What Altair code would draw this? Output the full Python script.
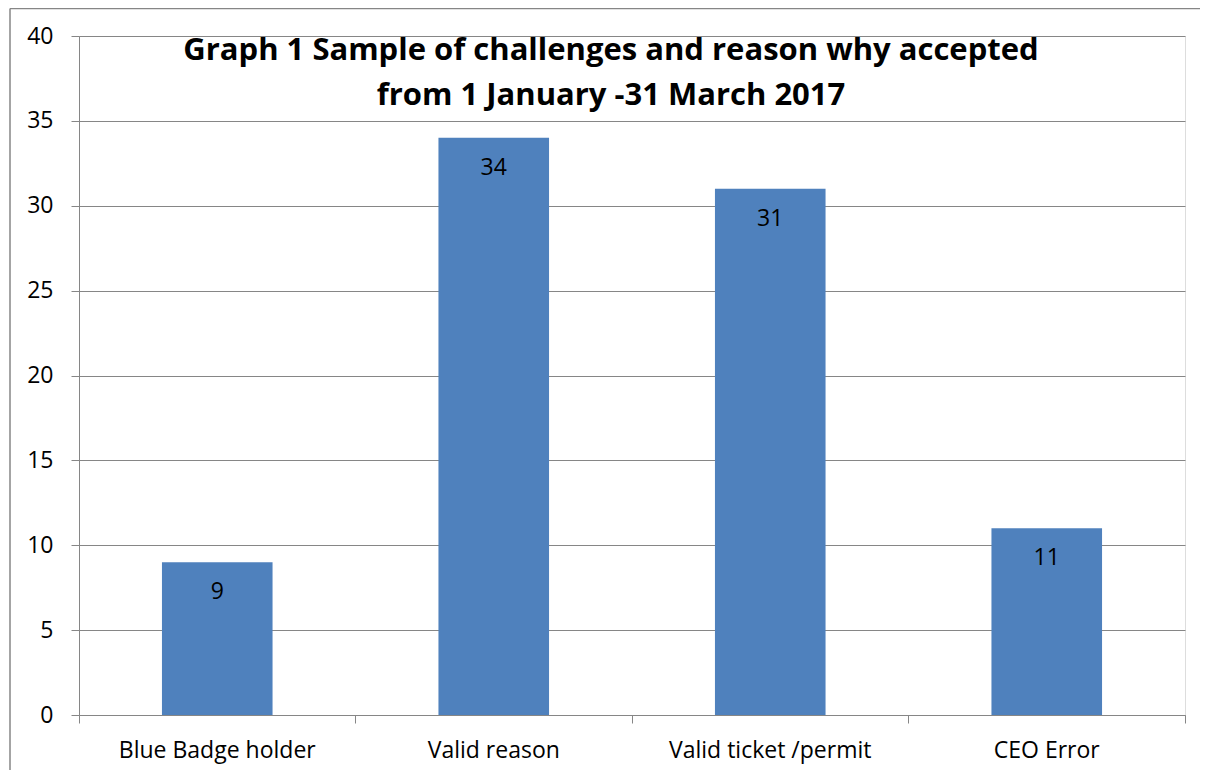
import altair as alt
import pandas as pd

categories = ["Blue Badge holder", "Valid reason", "Valid ticket /permit", "CEO Error"]
values = [9, 34, 31, 11]
y_ticks = [0, 5, 10, 15, 20, 25, 30, 35, 40]
title_lines = ["Graph 1 Sample of challenges and reason why accepted",
               "from 1 January -31 March 2017"]

df = pd.DataFrame({"reason": categories, "count": values})

W, H = 1106, 679
FONT = "Open Sans"
GRAY = "#868686"
BAR = "#4F81BD"
FS = 23

x_enc = alt.X(
    "reason:N", sort=categories, title=None,
    scale=alt.Scale(paddingInner=0, paddingOuter=0),
    axis=alt.Axis(labelAngle=0, bandPosition=1, tickExtra=True, tickSize=8,
                  tickColor=GRAY, domainColor=GRAY, domainWidth=1, tickWidth=1,
                  labelFontSize=FS, labelFont=FONT, labelColor="black",
                  labelLimit=500, labelPadding=16, grid=False),
)
y_enc = alt.Y(
    "count:Q", title=None,
    scale=alt.Scale(domain=[0, 40], nice=False),
    axis=alt.Axis(values=y_ticks, tickSize=8, tickColor=GRAY, domainColor=GRAY,
                  gridColor=GRAY, gridWidth=1, grid=True, labelFontSize=FS,
                  labelFont=FONT, labelColor="black", labelPadding=18),
)

bars = alt.Chart(df).mark_bar(color=BAR, width=alt.RelativeBandSize(0.4)).encode(
    x=x_enc, y=y_enc
)
labels = alt.Chart(df).mark_text(
    font=FONT, fontSize=FS, dy=30, baseline="middle", color="black"
).encode(x=alt.X("reason:N", sort=categories), y="count:Q", text="count:Q")

frame_src = pd.DataFrame({"a": [0]})
frame_left = alt.Chart(frame_src).mark_rule(color=GRAY, strokeWidth=1.5).encode(
    x=alt.value(-69), y=alt.value(-27.5), y2=alt.value(H + 200)
)
frame_top = alt.Chart(frame_src).mark_rule(color=GRAY, strokeWidth=1.5).encode(
    x=alt.value(-69), x2=alt.value(W + 200), y=alt.value(-27.5)
)

chart = alt.layer(frame_left, frame_top, bars, labels).properties(
    width=W, height=H,
    autosize=alt.AutoSizeParams(type="none"),
    padding={"left": 71, "top": 28, "right": 15, "bottom": 55},
    title=alt.Title(title_lines, font=FONT, fontSize=31, fontWeight="bold",
                    color="black", anchor="middle", frame="group",
                    baseline="top", lineHeight=45, offset=0, dx=-21, dy=104),
).configure_view(stroke=None).configure(background="white")

chart.save("out.html", embed_options={"renderer": "svg", "actions": False})
